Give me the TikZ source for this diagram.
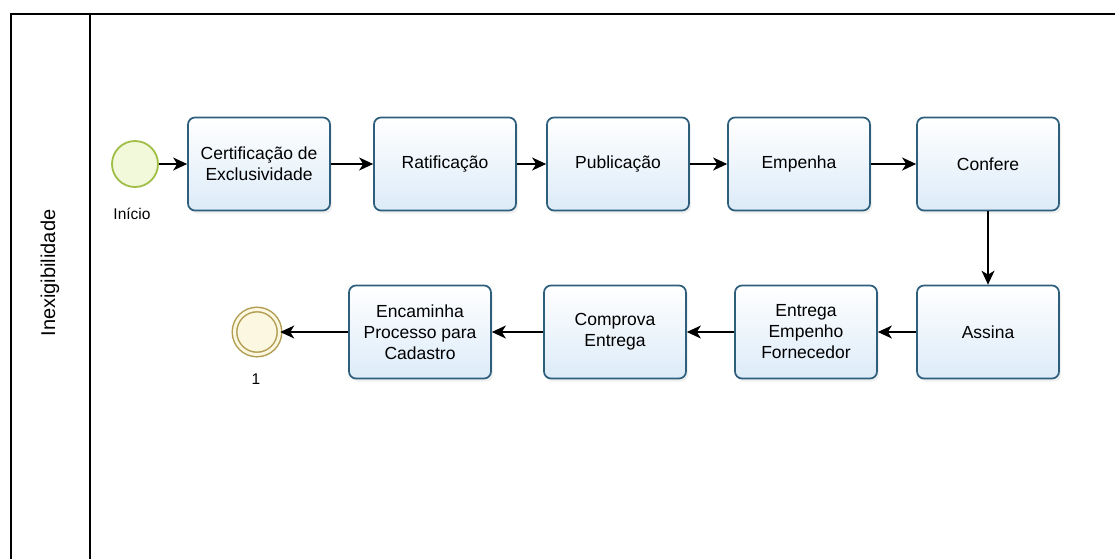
\documentclass[tikz,border=0pt]{standalone}
\usepackage{fontspec}
\setmainfont{Liberation Sans}
\usetikzlibrary{arrows.meta,shadows}
\definecolor{taskline}{RGB}{45,95,125}
\definecolor{taskfill}{RGB}{220,235,248}
\definecolor{startline}{RGB}{160,190,70}
\definecolor{startfill}{RGB}{242,249,218}
\definecolor{endline}{RGB}{178,158,82}
\definecolor{endfill}{RGB}{251,247,225}
\begin{document}
\begin{tikzpicture}[x=1pt,y=-1pt,
  task/.style={draw=taskline,line width=1.7pt,rounded corners=7pt,top color=white,bottom color=taskfill,
    minimum width=142pt,minimum height=93pt,align=center,font=\fontsize{17.5}{21}\selectfont,
    drop shadow={opacity=0.12,shadow xshift=2pt,shadow yshift=-3pt}},
  flow/.style={line width=1.4pt,-{Stealth[length=14pt,width=13pt,inset=4pt]}},
  lbl/.style={font=\fontsize{15.5}{18}\selectfont}]
	  \useasboundingbox (0,0) rectangle (1115,558);
	  \clip (0,0) rectangle (1115,558);
	  % pool and lane
	  \draw[line width=1.2pt] (11,14) rectangle (1140,580);
	  \draw[line width=1.2pt] (90,14) -- (90,580);
	  \node (L) [rotate=90,font=\fontsize{20}{24}\selectfont] at (50,273) {Inexigibilidade};
	  % events
	  \node (S) [draw=startline,fill=startfill,circle,line width=1.8pt,minimum size=46pt] at (135,164) {};
	  \node (Si) [lbl] at (132,214) {Início};
	  \node (E) [draw=endline,fill=endfill,circle,line width=1.5pt,double=endfill,double distance=3pt,minimum size=45pt] at (257,332) {};
	  \node (Ei) [lbl] at (256,379) {1};
	  % tasks
	  \node (T1) [task] at (259,164) {Certificação de\\Exclusividade};
	  \node (T2) [task] at (445,164) {Ratificação};
	  \node (T3) [task] at (618,164) {Publicação};
	  \node (T4) [task] at (799,164) {Empenha};
	  \node (T5) [task] at (988,164) {Confere};
	  \node (T6) [task] at (988,332) {Assina};
	  \node (T7) [task] at (806,332) {Entrega\\Empenho\\Fornecedor};
	  \node (T8) [task] at (615,332) {Comprova\\Entrega};
	  \node (T9) [task] at (420,332) {Encaminha\\Processo para\\Cadastro};
	  % flows
	  \draw[flow] (S) -- (T1);
	  \draw[flow] (T1) -- (T2);
	  \draw[flow] (T2) -- (T3);
	  \draw[flow] (T3) -- (T4);
	  \draw[flow] (T4) -- (T5);
	  \draw[flow] (T5) -- (T6);
	  \draw[flow] (T6) -- (T7);
	  \draw[flow] (T7) -- (T8);
	  \draw[flow] (T8) -- (T9);
	  \draw[flow] (T9) -- (E);
	\end{tikzpicture}
\end{document}
